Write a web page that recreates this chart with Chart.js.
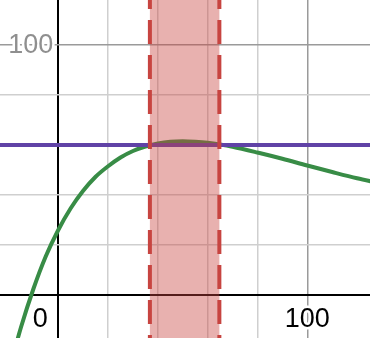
<!DOCTYPE html>
<html>
<head>
<meta charset="utf-8">
<script src="https://cdn.jsdelivr.net/npm/chart.js@4/dist/chart.umd.min.js"></script>
<style>
  html, body { margin: 0; padding: 0; background: #fff; overflow: hidden; }
</style>
</head>
<body>
<canvas id="graph" width="370" height="338"></canvas>
<script>
// visible window of the graph
const xMin = -23.4, xMax = 125.2;
const yMin = -17.2, yMax = 118;

// green curve
const curveX = [-20, -15, -10, -5, 0, 5, 10, 15, 20, 25, 30, 35, 40, 45, 50, 55, 60, 65, 70, 80, 90, 100, 110, 120, 130];
const curveY = [-31, -13, 2.4, 15.5, 26, 34.7, 41.7, 47.3, 51.5, 55, 57.6, 59.4, 60.6, 61.3, 61.5, 61.3, 60.9, 60.2, 59.3, 57, 54.5, 51.8, 49.2, 46.7, 44.5];

// horizontal purple line
const levelY = 60;

// shaded strip between the two dashed lines
const bandX = [36.8, 64.7];

// axis labels
const xTickLabels = [0, 100];
const yTickLabels = [100];

const RED = "#c74440";

function gridColor(ctx) {
  const v = ctx.tick.value;
  if (v === 0) return "#000";
  if (v % 100 === 0) return "#9a9a9a";
  return "#cfcfcf";
}
function gridWidth(ctx) {
  return ctx.tick.value === 0 ? 2 : 1.5;
}
function keepSteps(scale) {
  scale.ticks = scale.ticks.filter((t) => Math.abs(t.value % 20) < 1e-9);
}

const bandPlugin = {
  id: "band",
  afterDatasetDraw(chart, args) {
    if (chart.data.datasets[args.index].label !== "level") return;
    const { ctx, chartArea, scales } = chart;
    const x0 = scales.x.getPixelForValue(bandX[0]);
    const x1 = scales.x.getPixelForValue(bandX[1]);
    ctx.save();
    ctx.fillStyle = "rgba(199, 68, 64, 0.42)";
    ctx.fillRect(x0, chartArea.top, x1 - x0, chartArea.bottom - chartArea.top);
    ctx.restore();
  },
};

const labelPlugin = {
  id: "tickLabels",
  beforeDatasetsDraw(chart) {
    const { ctx, scales } = chart;
    const x0 = scales.x.getPixelForValue(0);
    const y0 = scales.y.getPixelForValue(0);
    ctx.save();
    ctx.font = "27px 'Liberation Sans', Arial, sans-serif";
    ctx.lineJoin = "round";
    ctx.lineWidth = 5;
    ctx.strokeStyle = "#fff";
    ctx.textBaseline = "alphabetic";

    ctx.fillStyle = "#000";
    for (const v of xTickLabels) {
      const text = String(v);
      let px = scales.x.getPixelForValue(v);
      if (v === 0) px = x0 - 18;
      ctx.textAlign = "center";
      ctx.strokeText(text, px, y0 + 32);
      ctx.fillText(text, px, y0 + 32);
    }

    ctx.fillStyle = "#8f8f8f";
    for (const v of yTickLabels) {
      const py = scales.y.getPixelForValue(v);
      ctx.textAlign = "right";
      ctx.strokeText(String(v), x0 - 5, py + 8);
      ctx.fillText(String(v), x0 - 5, py + 8);
    }
    ctx.restore();
  },
};

new Chart(document.getElementById("graph"), {
  type: "line",
  data: {
    datasets: [
      {
        label: "bandLeft",
        data: [{ x: bandX[0], y: yMax }, { x: bandX[0], y: yMin }],
        borderColor: RED,
        borderWidth: 4,
        borderDash: [24, 11],
        borderDashOffset: 15,
        order: 0,
      },
      {
        label: "bandRight",
        data: [{ x: bandX[1], y: yMax }, { x: bandX[1], y: yMin }],
        borderColor: RED,
        borderWidth: 4,
        borderDash: [24, 11],
        borderDashOffset: 15,
        order: 1,
      },
      {
        label: "level",
        data: [{ x: xMin - 5, y: levelY }, { x: xMax + 5, y: levelY }],
        borderColor: "#6042a6",
        borderWidth: 4,
        order: 2,
      },
      {
        label: "curve",
        data: curveX.map((x, i) => ({ x, y: curveY[i] })),
        borderColor: "#388c46",
        borderWidth: 4,
        cubicInterpolationMode: "monotone",
        order: 3,
      },
    ],
  },
  options: {
    responsive: false,
    animation: false,
    devicePixelRatio: 1,
    layout: { padding: 0 },
    elements: { point: { radius: 0 }, line: { fill: false } },
    plugins: { legend: { display: false }, tooltip: { enabled: false } },
    scales: {
      x: {
        type: "linear",
        min: xMin,
        max: xMax,
        afterFit: (s) => { s.height = 0; },
        afterBuildTicks: keepSteps,
        ticks: { display: false, stepSize: 20 },
        border: { display: false },
        grid: { drawTicks: false, color: gridColor, lineWidth: gridWidth },
      },
      y: {
        type: "linear",
        min: yMin,
        max: yMax,
        afterFit: (s) => { s.width = 0; },
        afterBuildTicks: keepSteps,
        ticks: { display: false, stepSize: 20 },
        border: { display: false },
        grid: { drawTicks: false, color: gridColor, lineWidth: gridWidth },
      },
    },
  },
  plugins: [bandPlugin, labelPlugin],
});
</script>
</body>
</html>
